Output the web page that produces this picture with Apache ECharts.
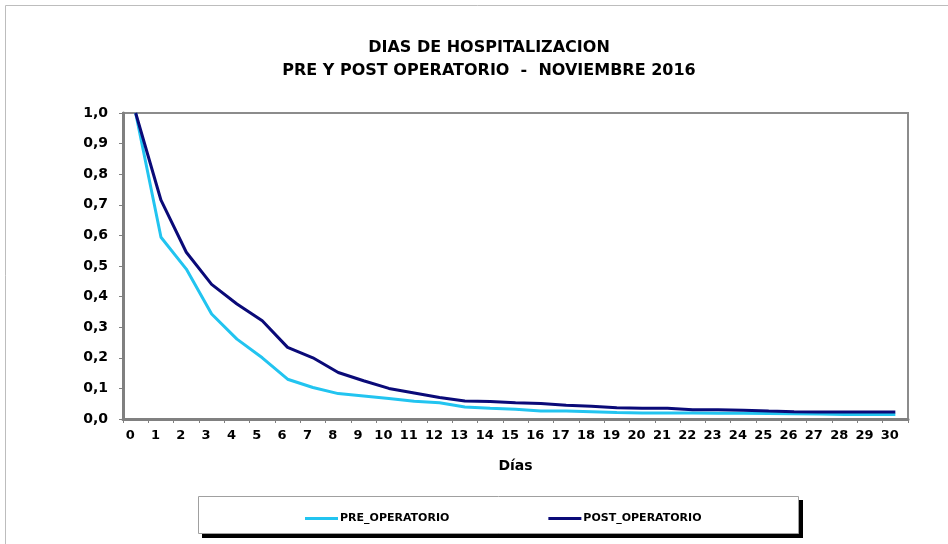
<!DOCTYPE html>
<html>
<head>
<meta charset="utf-8">
<script src="https://cdn.jsdelivr.net/npm/echarts@6/dist/echarts.min.js"></script>
<style>
  html, body { margin: 0; padding: 0; background: #fff; }
  #chart { width: 948px; height: 544px; }
</style>
</head>
<body>
<div id="chart"></div>
<script>
// dias 0..30
const dias = ['0','1','2','3','4','5','6','7','8','9','10','11','12','13','14','15',
  '16','17','18','19','20','21','22','23','24','25','26','27','28','29','30'];

const preOperatorio = [1.0, 0.594, 0.49, 0.343, 0.261, 0.20, 0.13, 0.103, 0.083, 0.075, 0.067,
  0.058, 0.053, 0.039, 0.035, 0.032, 0.026, 0.026, 0.024, 0.021, 0.02,
  0.02, 0.02, 0.019, 0.019, 0.018, 0.017, 0.016, 0.015, 0.015, 0.015];

const postOperatorio = [1.0, 0.715, 0.545, 0.44, 0.376, 0.321, 0.234, 0.20, 0.152, 0.125, 0.10,
  0.085, 0.07, 0.059, 0.057, 0.053, 0.051, 0.045, 0.042, 0.037, 0.035,
  0.035, 0.03, 0.03, 0.029, 0.026, 0.024, 0.023, 0.023, 0.023, 0.023];

const font = 'DejaVu Sans';
const chart = echarts.init(document.getElementById('chart'));

chart.setOption({
  animation: false,
  textStyle: { fontFamily: font },
  title: {
    text: 'DIAS DE HOSPITALIZACION\nPRE Y POST OPERATORIO  -  NOVIEMBRE 2016',
    left: 484,
    top: 31,
    textAlign: 'center',
    textStyle: { fontFamily: font, fontWeight: 'bold', fontSize: 16, lineHeight: 23, color: '#000' }
  },
  graphic: [
    { type: 'rect', shape: { x: 5.5, y: 5.5, width: 1000, height: 1000 },
      style: { fill: 'none', stroke: '#bdbdbd', lineWidth: 1 }, z: -1 },
    // sombra del recuadro de leyenda
    { type: 'rect', shape: { x: 202, y: 500, width: 601, height: 38 },
      style: { fill: '#000' }, z: 0 },
    { type: 'rect', shape: { x: 198.5, y: 496.5, width: 600, height: 37 },
      style: { fill: '#fff', stroke: '#a0a0a0', lineWidth: 1 }, z: 1 }
  ],
  legend: {
    data: ['PRE_OPERATORIO', 'POST_OPERATORIO'],
    left: 300,
    top: 508,
    icon: 'rect',
    itemWidth: 33,
    itemHeight: 3,
    itemGap: 99,
    z: 5,
    textStyle: { fontFamily: font, fontWeight: 'bold', fontSize: 11, color: '#000', padding: [0, 0, 0, -3] }
  },
  grid: {
    left: 123, right: 40, top: 113, bottom: 125,
    show: true, borderColor: '#8c8c8c', borderWidth: 2, backgroundColor: '#fff'
  },
  xAxis: {
    type: 'category',
    data: dias,
    boundaryGap: true,
    name: 'Días',
    nameLocation: 'middle',
    nameGap: 40,
    nameTextStyle: { fontFamily: font, fontWeight: 'bold', fontSize: 14, color: '#000' },
    axisLine: { lineStyle: { color: '#808080', width: 3 } },
    axisTick: { show: true, length: 4, lineStyle: { color: '#808080' } },
    axisLabel: { interval: 0, margin: 10, padding: [0, 11, 0, 0], fontFamily: font, fontWeight: 'bold', fontSize: 13, color: '#000' },
    splitLine: { show: false }
  },
  yAxis: {
    type: 'value',
    min: 0,
    max: 1,
    interval: 0.1,
    axisLine: { show: true, lineStyle: { color: '#808080', width: 3 } },
    axisTick: { show: true, length: 4, lineStyle: { color: '#808080' } },
    axisLabel: {
      margin: 15, fontFamily: font, fontWeight: 'bold', fontSize: 14, color: '#000',
      formatter: v => v.toFixed(1).replace('.', ',')
    },
    splitLine: { show: false }
  },
  series: [
    {
      name: 'PRE_OPERATORIO', type: 'line', data: preOperatorio,
      symbol: 'none', lineStyle: { color: '#22c4f0', width: 3 }, itemStyle: { color: '#22c4f0' }
    },
    {
      name: 'POST_OPERATORIO', type: 'line', data: postOperatorio,
      symbol: 'none', lineStyle: { color: '#0a0a78', width: 3 }, itemStyle: { color: '#0a0a78' }
    }
  ]
});
</script>
</body>
</html>
